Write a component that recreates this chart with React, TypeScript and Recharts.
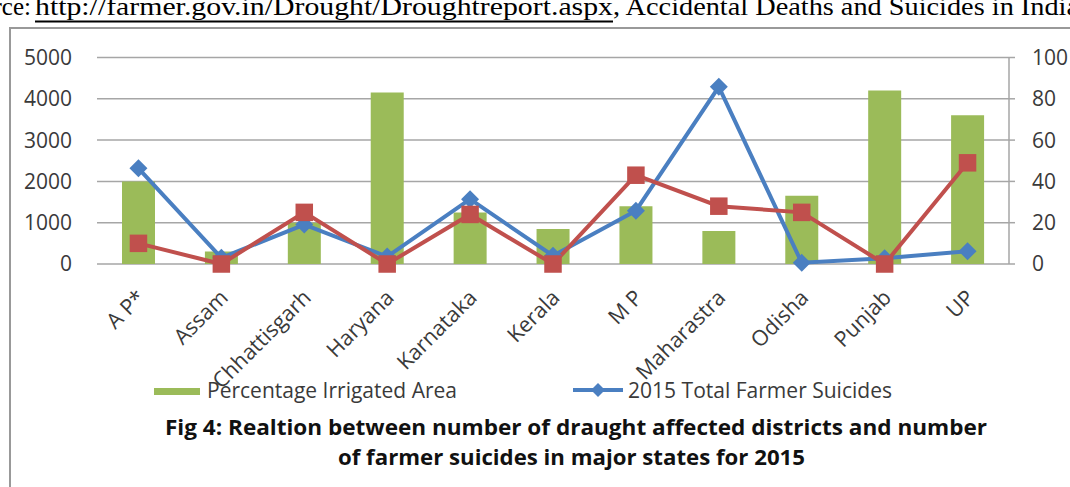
import React from "react";
import {
  ComposedChart,
  Bar,
  Line,
  XAxis,
  YAxis,
  CartesianGrid,
  Legend,
} from "recharts";

// State-wise values for 2015
const STATES = [
  "A P*",
  "Assam",
  "Chhattisgarh",
  "Haryana",
  "Karnataka",
  "Kerala",
  "M P",
  "Maharastra",
  "Odisha",
  "Punjab",
  "UP",
];
const IRRIGATED_PCT = [40, 6, 20, 83, 25, 17, 28, 16, 33, 84, 72];
const FARMER_SUICIDES = [2316, 150, 954, 180, 1569, 200, 1290, 4291, 30, 140, 310];
const DROUGHT_DISTRICTS = [10, 0, 25, 0, 24, 0, 43, 28, 25, 0, 49];

const LEFT_TICKS = [0, 1000, 2000, 3000, 4000, 5000];
const RIGHT_TICKS = [0, 20, 40, 60, 80, 100];

const data = STATES.map((state, i) => ({
  state,
  irrigated: IRRIGATED_PCT[i],
  suicides: FARMER_SUICIDES[i],
  drought: DROUGHT_DISTRICTS[i],
}));

const GREEN = "#9bbb59";
const BLUE = "#4a7fc1";
const RED = "#c0504d";
const GRID = "#a6a6a6";
const TEXT = "#3a3a3a";
const FONT = "'Open Sans', 'Noto Sans', sans-serif";

const tickStyle = { fontFamily: FONT, fontSize: 21, fill: TEXT };

const CategoryTick = (props: any) => {
  const { x, y, payload } = props;
  const ax = x + 8;
  const ay = y + 27;
  return (
    <text
      x={ax}
      y={ay}
      textAnchor="end"
      transform={`rotate(-45 ${ax} ${ay})`}
      style={{ fontFamily: FONT, fontSize: 21.5 }}
      fill={TEXT}
    >
      {payload.value}
    </text>
  );
};

const Diamond = (props: any) => {
  const { cx, cy } = props;
  if (cx == null || cy == null) return <g />;
  const r = 9;
  return (
    <polygon
      points={`${cx},${cy - r} ${cx + r},${cy} ${cx},${cy + r} ${cx - r},${cy}`}
      fill={BLUE}
    />
  );
};

const Square = (props: any) => {
  const { cx, cy } = props;
  if (cx == null || cy == null) return <g />;
  const s = 17.5;
  return <rect x={cx - s / 2} y={cy - s / 2} width={s} height={s} fill={RED} />;
};

const LegendContent = () => (
  <svg width={1070} height={40} style={{ display: "block" }}>
    <rect x={154} y={18} width={46} height={7} fill={GREEN} />
    <text
      x={207}
      y={28}
      textLength={250}
      lengthAdjust="spacingAndGlyphs"
      style={{ fontFamily: FONT, fontSize: 22 }}
      fill={TEXT}
    >
      Percentage Irrigated  Area
    </text>
    <line x1={573} y1={20} x2={623} y2={20} stroke={BLUE} strokeWidth={4} />
    <polygon points="598,13 605,20 598,27 591,20" fill={BLUE} />
    <text
      x={628}
      y={28}
      textLength={264}
      lengthAdjust="spacingAndGlyphs"
      style={{ fontFamily: FONT, fontSize: 22 }}
      fill={TEXT}
    >
      2015 Total Farmer Suicides
    </text>
  </svg>
);

const SERIF = "'Liberation Serif', 'DejaVu Serif', serif";

const Header = () => (
  <svg
    width={1070}
    height={487}
    style={{ position: "absolute", left: 0, top: 0, pointerEvents: "none" }}
  >
    <text x={31} y={15} textAnchor="end" style={{ fontFamily: SERIF, fontSize: 25 }} fill="#000">
      Source:
    </text>
    <text
      x={35}
      y={15}
      textLength={578}
      lengthAdjust="spacingAndGlyphs"
      style={{ fontFamily: SERIF, fontSize: 25 }}
      fill="#000"
    >
      http://farmer.gov.in/Drought/Droughtreport.aspx
    </text>
    <line x1={35} y1={21.5} x2={613} y2={21.5} stroke="#000" strokeWidth={2} />
    <text
      x={613}
      y={15}
      textLength={466}
      lengthAdjust="spacingAndGlyphs"
      style={{ fontFamily: SERIF, fontSize: 25 }}
      fill="#000"
    >
      , Accidental Deaths and Suicides in India
    </text>
    <text
      x={165}
      y={435}
      textLength={822}
      lengthAdjust="spacingAndGlyphs"
      style={{ fontFamily: FONT, fontSize: 21.5, fontWeight: 700 }}
      fill="#111"
    >
      Fig 4: Realtion between number of draught affected districts  and number
    </text>
    <text
      x={338}
      y={465}
      textLength={467}
      lengthAdjust="spacingAndGlyphs"
      style={{ fontFamily: FONT, fontSize: 21.5, fontWeight: 700 }}
      fill="#111"
    >
      of farmer suicides in major states for 2015
    </text>
  </svg>
);

export default function App() {
  return (
    <div
      style={{
        position: "absolute",
        left: 0,
        top: 0,
        width: 1070,
        height: 487,
        overflow: "hidden",
        background: "#fff",
      }}
    >
      <div
        style={{
          position: "absolute",
          left: 9,
          top: 27,
          width: 1200,
          height: 600,
          border: "2px solid #999",
        }}
      />
      <div style={{ position: "absolute", left: 0, top: 0 }}>
        <ComposedChart
          width={1070}
          height={487}
          data={data}
          margin={{ top: 57.5, right: 0, left: 0, bottom: 0 }}
        >
          <CartesianGrid
            yAxisId="left"
            vertical={false}
            stroke={GRID}
            strokeWidth={1.5}
          />
          <XAxis
            dataKey="state"
            interval={0}
            height={223}
            axisLine={false}
            tickLine={false}
            tick={<CategoryTick />}
          />
          <YAxis
            yAxisId="left"
            width={97}
            domain={[0, 5000]}
            ticks={LEFT_TICKS}
            axisLine={false}
            tickLine={false}
            tickMargin={19}
            tick={tickStyle}
          />
          <YAxis
            yAxisId="right"
            orientation="right"
            width={61}
            domain={[0, 100]}
            ticks={RIGHT_TICKS}
            axisLine={{ stroke: GRID, strokeWidth: 1.5 }}
            tickLine={{ stroke: GRID, strokeWidth: 1.5 }}
            tickSize={6}
            tickMargin={17}
            tick={{ ...tickStyle, textAnchor: "start" }}
          />
          <Legend
            layout="horizontal"
            verticalAlign="middle"
            align="center"
            wrapperStyle={{ top: 370, left: 0 }}
            content={<LegendContent />}
          />
          <Bar
            yAxisId="right"
            dataKey="irrigated"
            name="Percentage Irrigated Area"
            fill={GREEN}
            barSize={33}
            isAnimationActive={false}
          />
          <Line
            yAxisId="left"
            type="linear"
            dataKey="suicides"
            name="2015 Total Farmer Suicides"
            stroke={BLUE}
            strokeWidth={4}
            dot={<Diamond />}
            activeDot={false}
            isAnimationActive={false}
          />
          <Line
            yAxisId="right"
            type="linear"
            dataKey="drought"
            name="Drought Affected Districts"
            stroke={RED}
            strokeWidth={4}
            dot={<Square />}
            activeDot={false}
            isAnimationActive={false}
          />
        </ComposedChart>
      </div>
      <Header />
    </div>
  );
}
